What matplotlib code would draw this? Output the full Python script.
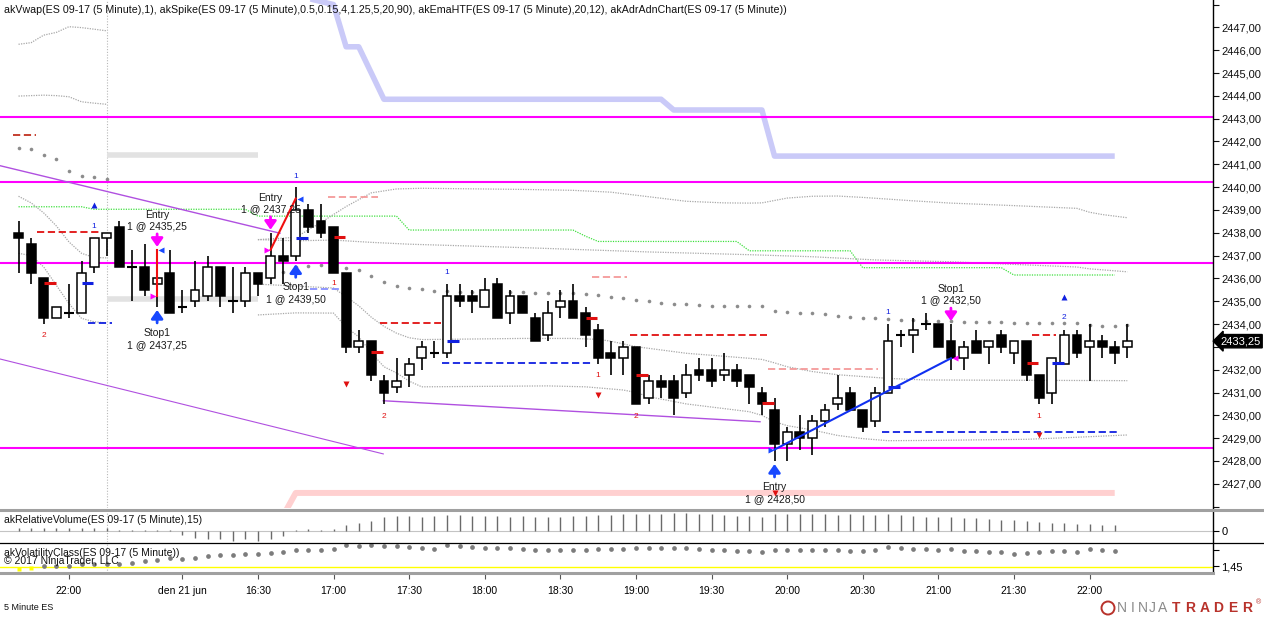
import matplotlib.pyplot as plt
import numpy as np
from matplotlib.lines import Line2D
from matplotlib.patches import Circle
from matplotlib.transforms import offset_copy, blended_transform_factory

plt.rcParams['font.family'] = ['Liberation Sans', 'DejaVu Sans']
plt.rcParams['font.size'] = 7.5

# ---- ES 09-17, 5 minute bars (bar 0 = 21:40 previous day) ----
opens = [2438.0, 2437.5, 2436.0, 2434.25, 2434.5, 2434.5, 2436.5, 2437.75, 2438.25, 2436.5,
         2436.5, 2435.75, 2436.25, 2434.75, 2435.0, 2435.25, 2436.5, 2435.0, 2435.0, 2436.25,
         2436.0, 2437.0, 2437.0, 2439.0, 2438.5, 2438.25, 2436.25, 2433.0, 2433.25, 2431.5,
         2431.25, 2431.75, 2432.5, 2432.75, 2432.75, 2435.25, 2435.25, 2434.75, 2435.75, 2434.5,
         2435.25, 2434.25, 2433.5, 2434.75, 2435.0, 2434.5, 2433.75, 2432.75, 2432.5, 2433.0,
         2430.75, 2431.5, 2431.5, 2431.0, 2432.0, 2432.0, 2431.75, 2432.0, 2431.75, 2431.0,
         2430.25, 2428.75, 2429.25, 2429.0, 2429.75, 2430.5, 2431.0, 2430.25, 2429.75, 2431.0,
         2433.5, 2433.5, 2434.0, 2434.0, 2433.25, 2432.5, 2433.25, 2433.0, 2433.5, 2432.75,
         2433.25, 2431.75, 2431.0, 2432.25, 2433.5, 2433.0, 2433.25, 2433.0, 2433.0]
highs = [2438.5, 2437.75, 2436.0, 2434.75, 2435.75, 2436.75, 2437.75, 2438.0, 2438.5, 2437.25,
         2437.5, 2437.25, 2437.25, 2435.5, 2436.75, 2437.0, 2436.5, 2436.5, 2436.5, 2436.25,
         2438.0, 2437.75, 2440.0, 2439.25, 2439.25, 2438.25, 2436.25, 2433.75, 2433.25, 2431.75,
         2432.5, 2432.5, 2433.25, 2433.25, 2435.75, 2435.75, 2435.5, 2436.0, 2436.0, 2435.5,
         2435.25, 2434.5, 2435.0, 2435.5, 2435.75, 2434.75, 2434.0, 2433.25, 2433.25, 2433.0,
         2431.75, 2431.75, 2431.75, 2432.25, 2432.5, 2432.5, 2432.75, 2432.25, 2431.75, 2431.25,
         2430.75, 2429.5, 2430.0, 2430.0, 2430.5, 2431.75, 2431.25, 2430.25, 2431.25, 2434.0,
         2433.75, 2434.25, 2434.5, 2434.0, 2434.0, 2433.25, 2433.75, 2433.25, 2433.75, 2433.25,
         2433.25, 2431.75, 2432.5, 2433.75, 2433.75, 2434.0, 2433.5, 2433.25, 2434.0]
lows = [2436.25, 2435.75, 2434.0, 2434.25, 2434.25, 2434.5, 2436.25, 2437.0, 2436.5, 2435.0,
        2435.25, 2434.75, 2434.5, 2434.5, 2434.75, 2435.0, 2434.75, 2434.5, 2434.75, 2435.25,
        2435.75, 2435.75, 2436.75, 2438.0, 2437.75, 2436.25, 2432.75, 2432.75, 2431.5, 2430.5,
        2431.0, 2431.25, 2432.0, 2432.5, 2432.5, 2434.75, 2434.5, 2434.75, 2434.25, 2434.0,
        2434.5, 2433.25, 2433.25, 2434.25, 2434.25, 2433.0, 2432.25, 2431.75, 2431.75, 2430.5,
        2430.5, 2430.75, 2430.0, 2430.75, 2431.5, 2431.25, 2431.5, 2431.25, 2430.5, 2430.0,
        2428.0, 2428.0, 2428.5, 2428.25, 2429.5, 2430.25, 2430.25, 2429.25, 2429.5, 2431.0,
        2433.0, 2432.75, 2433.75, 2433.0, 2432.0, 2432.0, 2432.75, 2432.25, 2432.75, 2432.25,
        2431.5, 2430.5, 2430.5, 2432.25, 2432.5, 2431.5, 2432.5, 2432.25, 2432.5]
closes = [2437.75, 2436.25, 2434.25, 2434.75, 2434.5, 2436.25, 2437.75, 2438.0, 2436.5, 2436.5,
          2435.5, 2436.0, 2434.5, 2434.75, 2435.5, 2436.5, 2435.25, 2435.0, 2436.25, 2435.75,
          2437.0, 2436.75, 2439.0, 2438.25, 2438.0, 2436.25, 2433.0, 2433.25, 2431.75, 2431.0,
          2431.5, 2432.25, 2433.0, 2432.75, 2435.25, 2435.0, 2435.0, 2435.5, 2434.25, 2435.25,
          2434.5, 2433.25, 2434.5, 2435.0, 2434.25, 2433.5, 2432.5, 2432.5, 2433.0, 2430.5,
          2431.5, 2431.25, 2430.75, 2431.75, 2431.75, 2431.5, 2432.0, 2431.5, 2431.25, 2430.5,
          2428.75, 2429.25, 2429.0, 2429.75, 2430.25, 2430.75, 2430.25, 2429.5, 2431.0, 2433.25,
          2433.5, 2433.75, 2434.0, 2433.0, 2432.5, 2433.0, 2432.75, 2433.25, 2433.0, 2433.25,
          2431.75, 2430.75, 2432.5, 2433.5, 2432.75, 2433.25, 2433.0, 2432.75, 2433.25]

tick_bars = [4, 13, 19, 25, 31, 37, 43, 49, 55, 61, 67, 73, 79, 85]
tick_labels = ['22:00', 'den 21 jun', '16:30', '17:00', '17:30', '18:00', '18:30',
               '19:00', '19:30', '20:00', '20:30', '21:00', '21:30', '22:00']
session_break = 7

# horizontal support / resistance levels (magenta)
levels = [2443.08, 2440.24, 2436.69, 2428.59]

# akEmaHTF band, vertices (bar, price)
htf_bars = [22, 25, 26, 27, 29, 51, 52, 59, 60, 87]
htf_vals = [2448.4, 2448.0, 2446.15, 2446.15, 2443.85, 2443.85, 2443.38, 2443.38, 2441.36, 2441.36]
# green dotted step line
grn_bars = [0, 5, 6, 18, 19, 30, 31, 44, 45, 46, 57, 58, 66, 67, 78, 79, 87]
grn_vals = [2439.14, 2439.14, 2439.03, 2439.03, 2438.73, 2438.73, 2438.12, 2438.12, 2437.85,
            2437.62, 2437.62, 2437.21, 2437.21, 2436.47, 2436.47, 2436.15, 2436.15]
# ADR band (pink) and gray opening bands
adr_bars = [21, 22, 87]
adr_vals = [2425.6, 2426.6, 2426.6]
gray_band_bars = [7, 19]
gray_band_hi = [2441.4, 2441.4]
gray_band_lo = [2435.1, 2435.1]

# vwap bands (gray dotted), previous session bars 0..7
prev_up = [2446.26, 2446.33, 2446.66, 2446.78, 2447.03, 2446.99, 2446.92, 2446.85]
prev_lo = [2443.99, 2444.01, 2444.03, 2444.01, 2443.96, 2443.74, 2443.68, 2443.63]
prev_mid1 = [2439.6, 2439.31, 2438.87, 2438.3, 2437.6, 2437.1, 2436.92, 2436.9]
prev_mid2 = [2437.1, 2437.0, 2436.5, 2435.7, 2434.9, 2434.25, 2434.1, 2434.05]
# current session bands, vertices (bar, price)
band1 = [(19, 2437.70), (22, 2437.80), (24, 2438.45), (26, 2439.15), (28, 2439.75), (30, 2439.92),
         (32, 2439.95), (40, 2439.90), (44, 2439.86), (47, 2439.78), (50, 2439.58), (53, 2439.38),
         (56, 2439.31), (58, 2439.30), (59, 2439.31), (61, 2439.52), (63, 2439.60), (65, 2439.61),
         (67, 2439.55), (71, 2439.40), (74, 2439.30), (79, 2439.19), (84, 2439.07), (85, 2438.90),
         (86, 2438.80), (88, 2438.66)]
band2 = [(19, 2437.70), (22, 2437.65), (25, 2437.68), (28, 2437.58), (31, 2437.50), (40, 2437.35),
         (50, 2437.16), (58, 2437.04), (63, 2436.95), (68, 2436.81), (74, 2436.73), (77, 2436.66),
         (84, 2436.50), (85, 2436.42), (88, 2436.29)]
band3 = [(19, 2435.75), (25, 2435.58), (26, 2435.20), (27, 2434.80), (28, 2434.30), (29, 2433.90),
         (30, 2433.60), (31, 2433.40), (32, 2433.32), (40, 2433.37), (44, 2433.37), (46, 2433.33),
         (47, 2433.25), (49, 2433.01), (53, 2432.72), (58, 2432.50), (59, 2432.45), (60, 2432.30),
         (61, 2432.13), (63, 2431.92), (65, 2431.78), (69, 2431.62), (72, 2431.55), (88, 2431.52)]
band4 = [(19, 2434.40), (22, 2434.49), (25, 2434.48), (26, 2433.87), (27, 2433.44), (28, 2432.74),
         (29, 2432.13), (30, 2431.86), (31, 2431.50), (32, 2431.25), (42, 2431.29), (45, 2431.25),
         (48, 2431.11), (49, 2431.00), (50, 2430.82), (53, 2430.50), (58, 2430.16), (59, 2430.00),
         (60, 2429.72), (61, 2429.55), (63, 2429.36), (65, 2429.12), (67, 2428.98), (69, 2428.89),
         (72, 2428.90), (80, 2428.95), (84, 2429.04), (88, 2429.14)]

# vwap dots
vwap_prev = [2441.73, 2441.66, 2441.41, 2441.23, 2440.71, 2440.5, 2440.43, 2440.36]
vwap_start = 20
vwap_new = [2436.1, 2436.3, 2436.5, 2436.55, 2436.6, 2436.5, 2436.45, 2436.35, 2436.1, 2435.85,
            2435.65, 2435.6, 2435.52, 2435.47, 2435.47, 2435.42, 2435.42, 2435.47, 2435.39, 2435.42,
            2435.39, 2435.38, 2435.38, 2435.35, 2435.35, 2435.31, 2435.28, 2435.20, 2435.13, 2435.06,
            2434.99, 2434.94, 2434.88, 2434.87, 2434.84, 2434.81, 2434.81, 2434.80, 2434.77, 2434.77,
            2434.58, 2434.52, 2434.47, 2434.47, 2434.43, 2434.35, 2434.32, 2434.28, 2434.25, 2434.21,
            2434.18, 2434.18, 2434.15, 2434.15, 2434.15, 2434.11, 2434.11, 2434.11, 2434.11, 2434.06,
            2434.06, 2434.06, 2434.03, 2434.03, 2434.03, 2433.96, 2433.92, 2433.92, 2433.96]

# trendlines (bar0, price0, bar1, price1)
trendlines = [(-1.47, 2440.94, 20.75, 2437.98),
              (-1.47, 2432.47, 28.95, 2428.31),
              (28.95, 2430.64, 58.85, 2429.72)]

# akSpike dashed levels (bar from, bar to, price, kind)
spike_levels = [(-0.45, 1.4, 2442.28, 'darkred'), (1.5, 6.5, 2438.02, 'red'),
                (5.5, 7.4, 2434.03, 'blue'), (24.6, 28.5, 2439.55, 'salmon'),
                (23.1, 25.4, 2435.52, 'lightblue'), (28.7, 33.5, 2434.05, 'red'),
                (33.6, 45.4, 2432.28, 'blue'), (45.5, 48.3, 2436.05, 'salmon'),
                (48.5, 59.4, 2433.52, 'red'), (59.5, 68.2, 2432.02, 'salmon'),
                (68.5, 87.3, 2429.26, 'blue'), (80.4, 82.3, 2433.52, 'red')]
spike_ticks = [(2, 2435.78, 'red'), (5, 2435.78, 'blue'), (22, 2437.76, 'blue'), (25, 2437.80, 'red'),
               (28, 2432.76, 'red'), (34, 2433.27, 'blue'), (45, 2434.28, 'red'), (49, 2431.76, 'red'),
               (59, 2430.53, 'red'), (69, 2431.26, 'blue'), (80, 2432.28, 'red'), (82, 2432.28, 'blue')]
spike_arrows = [(6, 2439.22, 'up'), (26, 2431.38, 'down'), (46, 2430.90, 'down'),
                (60, 2426.60, 'down'), (81, 2429.14, 'down'), (83, 2435.17, 'up')]
spike_counts = [(2, 2433.52, '2', 'red'), (6, 2438.27, '1', 'blue'), (22, 2440.48, '1', 'blue'),
                (25, 2435.76, '1', 'red'), (29, 2429.97, '2', 'red'), (34, 2436.25, '1', 'blue'),
                (46, 2431.73, '1', 'red'), (49, 2429.97, '2', 'red'), (69, 2434.52, '1', 'blue'),
                (81, 2429.97, '1', 'red'), (83, 2434.30, '2', 'blue')]

# executions
trade_entry_bar = [11, 20, 60]
trade_entry_px = [2435.25, 2437.25, 2428.50]
trade_exit_bar = [11, 22, 74]
trade_exit_px = [2437.25, 2439.50, 2432.50]
trade_side = ['short', 'short', 'long']

# lower panels
rel_volume = [3, 3, 3, 3, 3, 3, 3, 3, 0.5, 0.5,
              0.5, 0.5, 0.5, -4.3, -7.7, -8.7, -9.3, -11, -9.3, -11,
              -8.7, -6, 0.3, 1.3, 0.3, 1.3, 5.7, 8, 10, 14,
              15.7, 15.7, 14, 15.7, 16.7, 16.7, 15.7, 15.7, 15.7, 14.7,
              15.7, 14.7, 14.7, 14.7, 15.7, 15.7, 16.7, 16.7, 17.3, 18,
              18, 18, 19, 19, 18, 17.3, 16.7, 15.7, 15.7, 14.7,
              17.3, 17.3, 17.3, 17.3, 17.3, 16.7, 17.3, 16.7, 16.7, 17.3,
              16.7, 15.7, 14.7, 14.7, 14.7, 13.3, 13.3, 12.3, 11.7, 10.7,
              10, 9, 8.3, 8.3, 7.3, 7.3, 5.7, 5.7]
volatility = [1.417, 1.427, 1.45, 1.45, 1.45, 1.467, 1.467, 1.467, 1.467, 1.483,
              1.50, 1.51, 1.537, 1.527, 1.537, 1.55, 1.56, 1.56, 1.57, 1.57,
              1.583, 1.593, 1.617, 1.61, 1.61, 1.627, 1.66, 1.653, 1.66, 1.653,
              1.65, 1.643, 1.633, 1.627, 1.66, 1.65, 1.643, 1.637, 1.633, 1.633,
              1.627, 1.617, 1.617, 1.617, 1.617, 1.617, 1.627, 1.627, 1.627, 1.637,
              1.637, 1.637, 1.637, 1.637, 1.627, 1.617, 1.61, 1.60, 1.60, 1.593,
              1.617, 1.617, 1.61, 1.617, 1.61, 1.61, 1.60, 1.60, 1.61, 1.643,
              1.637, 1.627, 1.62, 1.61, 1.62, 1.607, 1.60, 1.593, 1.593, 1.577,
              1.587, 1.593, 1.60, 1.60, 1.593, 1.62, 1.61, 1.603]
vol_threshold = 1.437

# ---- styles ----
COL = {'red': '#e01010', 'darkred': '#c03020', 'blue': '#1020e0', 'salmon': '#f49a9a',
       'lightblue': '#8890ff'}
MAG = '#ff00ff'
BAND_GRAY = '#a8a8a8'

W, H = 1264, 617
fig = plt.figure(figsize=(W / 100, H / 100), dpi=100)
fig.patch.set_facecolor('white')


def fy(py):
    return 1 - py / H


RIGHT = 1213 / W
ax = fig.add_axes([0, fy(508), RIGHT, 508 / H])
axv = fig.add_axes([0, fy(542), RIGHT, 31 / H])
axc = fig.add_axes([0, fy(572.5), RIGHT, 29 / H])

for a in (ax, axv, axc):
    a.set_xlim(-1.47, 94.8)
    for s in a.spines.values():
        s.set_visible(False)
    a.axvline(session_break, color='#b8b8b8', ls=(0, (1, 1.5)), lw=0.8, zorder=0)
    a.yaxis.tick_right()
ax.tick_params(axis='x', bottom=False, labelbottom=False)
axv.tick_params(axis='x', bottom=False, labelbottom=False)

ax.set_ylim(2425.94, 2448.2)
x = np.arange(len(opens))
o, h, l, c = map(np.array, (opens, highs, lows, closes))

# background indicator bands
ax.plot(htf_bars, htf_vals, color='#cacaf8', lw=4.0, solid_capstyle='butt', zorder=1)
ax.plot(adr_bars, adr_vals, color='#ffd0d0', lw=4.3, solid_capstyle='butt', zorder=1)
ax.plot(gray_band_bars, gray_band_hi, color='#e2e2e2', lw=4.0, solid_capstyle='butt', zorder=1)
ax.plot(gray_band_bars, gray_band_lo, color='#e2e2e2', lw=4.0, solid_capstyle='butt', zorder=1)
ax.plot(grn_bars, grn_vals, color='#40e040', lw=0.9, ls=(0, (1, 1)), zorder=2)

for ser in (prev_up, prev_lo, prev_mid1, prev_mid2):
    ax.plot(x[:len(ser)], ser, color=BAND_GRAY, lw=0.9, ls=(0, (1, 1)), zorder=2)
for band in (band1, band2, band3, band4):
    bx, by = zip(*band)
    ax.plot(bx, by, color=BAND_GRAY, lw=0.9, ls=(0, (1, 1)), zorder=2)

ax.plot(x[:len(vwap_prev)], vwap_prev, 'o', ms=2.6, color='#8c8c8c', mec='none', zorder=2)
ax.plot(np.arange(vwap_start, vwap_start + len(vwap_new)), vwap_new, 'o', ms=2.6,
        color='#8c8c8c', mec='none', zorder=2)

for lv in levels:
    ax.axhline(lv, color=MAG, lw=1.5, zorder=3)

for i, (x0, p0, x1, p1) in enumerate(trendlines):
    ax.plot([x0, x1], [p0, p1], color='#b050e0', lw=1.0 if i != 1 else 0.8, zorder=3)

for x0, x1, p, kind in spike_levels:
    ax.plot([x0, x1], [p, p], color=COL[kind], lw=1.3, dashes=(4, 2), zorder=3)

# candles
ax.vlines(x, l, h, color='black', lw=1.2, zorder=5)
body_lo = np.minimum(o, c)
body_h = np.abs(c - o)
doji = body_h == 0
up = c > o
ax.bar(x[~doji], body_h[~doji], bottom=body_lo[~doji], width=0.7,
       color=np.where(up[~doji], 'white', 'black'), edgecolor='black', lw=1.1, zorder=6)
ax.hlines(o[doji], x[doji] - 0.38, x[doji] + 0.38, color='black', lw=1.5, zorder=6)

# akSpike markers
for b, p, kind in spike_ticks:
    ax.plot([b, b + 0.95], [p, p], color=COL[kind], lw=2.2, solid_capstyle='butt', zorder=7)
for b, p, d in spike_arrows:
    ax.plot(b, p, 'v' if d == 'down' else '^', ms=5, color=COL['red' if d == 'down' else 'blue'],
            mec='none', zorder=7)
for b, p, t, kind in spike_counts:
    ax.text(b, p, t, color=COL[kind], fontsize=6, ha='center', va='center', zorder=7)


# executions
def exec_marker(bar, above, label, price, buy):
    col = '#1848ff' if buy else MAG
    sgn = 1 if above else -1
    ref = highs[bar] if above else lows[bar]
    tip = offset_copy(ax.transData, fig=fig, x=0, y=sgn * 3, units='dots')
    ax.annotate('', xy=(bar, ref), xycoords=tip, xytext=(0, sgn * 13), textcoords='offset pixels',
                arrowprops=dict(arrowstyle='-|>,head_length=0.5,head_width=0.35', color=col,
                                lw=2.0, shrinkA=0, shrinkB=0, mutation_scale=10), zorder=8)
    price_txt = '1 @ ' + f'{price:.2f}'.replace('.', ',')
    if above:
        lines = [(24, price_txt), (35, label)]
    else:
        lines = [(-26, label), (-38, price_txt)]
    for dy, t in lines:
        ax.annotate(t, xy=(bar, ref), xytext=(0, dy), textcoords='offset pixels',
                    ha='center', va='center', fontsize=7.5, color='#1a1a1a', zorder=8)


for eb, ep, xb, xp, side in zip(trade_entry_bar, trade_entry_px, trade_exit_bar, trade_exit_px,
                                trade_side):
    win = (xp > ep) == (side == 'long')
    ax.plot([eb, xb], [ep, xp], color='#1030f0' if win else '#f01010', lw=1.5, zorder=8)
    entry_buy = side == 'long'
    ax.plot(eb - 0.3, ep, '>', ms=4, color='#1848ff' if entry_buy else MAG, mec='none', zorder=8)
    ax.plot(xb + 0.3, xp, '<', ms=4, color=MAG if entry_buy else '#1848ff', mec='none', zorder=8)
    exec_marker(eb, not entry_buy, 'Entry', ep, entry_buy)
    exec_marker(xb, entry_buy, 'Stop1', xp, not entry_buy)

# price scale; the label under the last-price tag is covered in the original
last_px = closes[-1]
yt = np.arange(2426, 2449)
ax.set_yticks(yt)
ax.set_yticklabels(['' if v in (2426, 2448) or abs(v - last_px) < 0.5
                    else f'{v:.2f}'.replace('.', ',') for v in yt])
ax.tick_params(axis='y', length=4, width=0.8, labelsize=8, pad=2, colors='#111111')

trans = blended_transform_factory(ax.transAxes, ax.transData)
ax.text(1.006, last_px, f'{last_px:.2f}'.replace('.', ','), transform=trans, ha='left',
        va='center', color='white', fontsize=8,
        bbox=dict(boxstyle='larrow,pad=0.15', fc='black', ec='black'), clip_on=False, zorder=10)

# relative volume panel
axv.set_ylim(-12, 20.7)
axv.axhline(0, color='#c4c4c4', lw=0.8, zorder=1)
axv.vlines(x[:len(rel_volume)], 0, rel_volume, color='#6a6a6a', lw=1.0, zorder=2)
axv.set_yticks([0])
axv.set_yticklabels(['0'])
axv.tick_params(axis='y', length=4, width=0.8, labelsize=8, pad=2)

# volatility class panel
vol = np.array(volatility)
axc.set_ylim(1.385, 1.68)
axc.axhline(vol_threshold, color='#ffff00', lw=1.0, zorder=1)
low_vol = vol < vol_threshold
vx = x[:len(vol)]
axc.plot(vx[~low_vol], vol[~low_vol], 'o', ms=3.4, color='#7c7c7c', mec='none', zorder=2)
axc.plot(vx[low_vol], vol[low_vol], 's', ms=3.0, color='#ffff00', mec='none', zorder=2)
axc.set_yticks([1.45, 1.617])
axc.set_yticklabels(['1,45', ''])
axc.tick_params(axis='y', length=4, width=0.8, labelsize=8, pad=2)
axc.set_xticks(tick_bars)
axc.set_xticklabels(tick_labels)
axc.tick_params(axis='x', length=4, width=0.8, color='#555555', labelsize=7.5, pad=6)

# frame lines
fig.add_artist(Line2D([RIGHT, RIGHT], [fy(0), fy(573)], color='black', lw=1.0))
fig.add_artist(Line2D([0, 1], [fy(509.5), fy(509.5)], color='#a0a0a0', lw=2.2))
fig.add_artist(Line2D([0, 1], [fy(542.8), fy(542.8)], color='black', lw=0.9))
fig.add_artist(Line2D([0, RIGHT], [fy(573.3), fy(573.3)], color='#a0a0a0', lw=2.2))

# texts
fig.text(4 / W, fy(10), 'akVwap(ES 09-17 (5 Minute),1), akSpike(ES 09-17 (5 Minute),0.5,0.15,4,1.25,5,20,90), '
         'akEmaHTF(ES 09-17 (5 Minute),20,12), akAdrAdnChart(ES 09-17 (5 Minute))',
         fontsize=7.65, va='center', color='#111111')
fig.text(4 / W, fy(520), 'akRelativeVolume(ES 09-17 (5 Minute),15)', fontsize=7.5, va='center',
         color='#111111')
fig.text(4 / W, fy(553), 'akVolatilityClass(ES 09-17 (5 Minute))', fontsize=7.5, va='center',
         color='#111111')
fig.text(4 / W, fy(561.5), '\u00a9 2017 NinjaTrader, LLC', fontsize=7.5, va='center', color='#111111')
fig.text(4 / W, fy(607), '5 Minute ES', fontsize=6.5, va='center', color='#111111')

# NinjaTrader logo
for i, ch in enumerate('NINJA'):
    fig.text((1122 + i * 10.2) / W, fy(608), ch, fontsize=10, color='#8a8a8a', ha='center',
             va='center', fontweight='light')
for i, ch in enumerate('TRADER'):
    fig.text((1176 + i * 14.2) / W, fy(608), ch, fontsize=10, color='#b8322b', ha='center',
             va='center', fontweight='bold')
fig.text(1259 / W, fy(603), '\u00ae', fontsize=5, color='#b8322b', ha='center', va='center')
fig.add_artist(Circle((1108 / 100, (H - 608) / 100), 0.065, transform=fig.dpi_scale_trans,
                      fill=False, ec='#b8322b', lw=1.4))

fig.savefig('out.png', dpi=100, facecolor='white')
